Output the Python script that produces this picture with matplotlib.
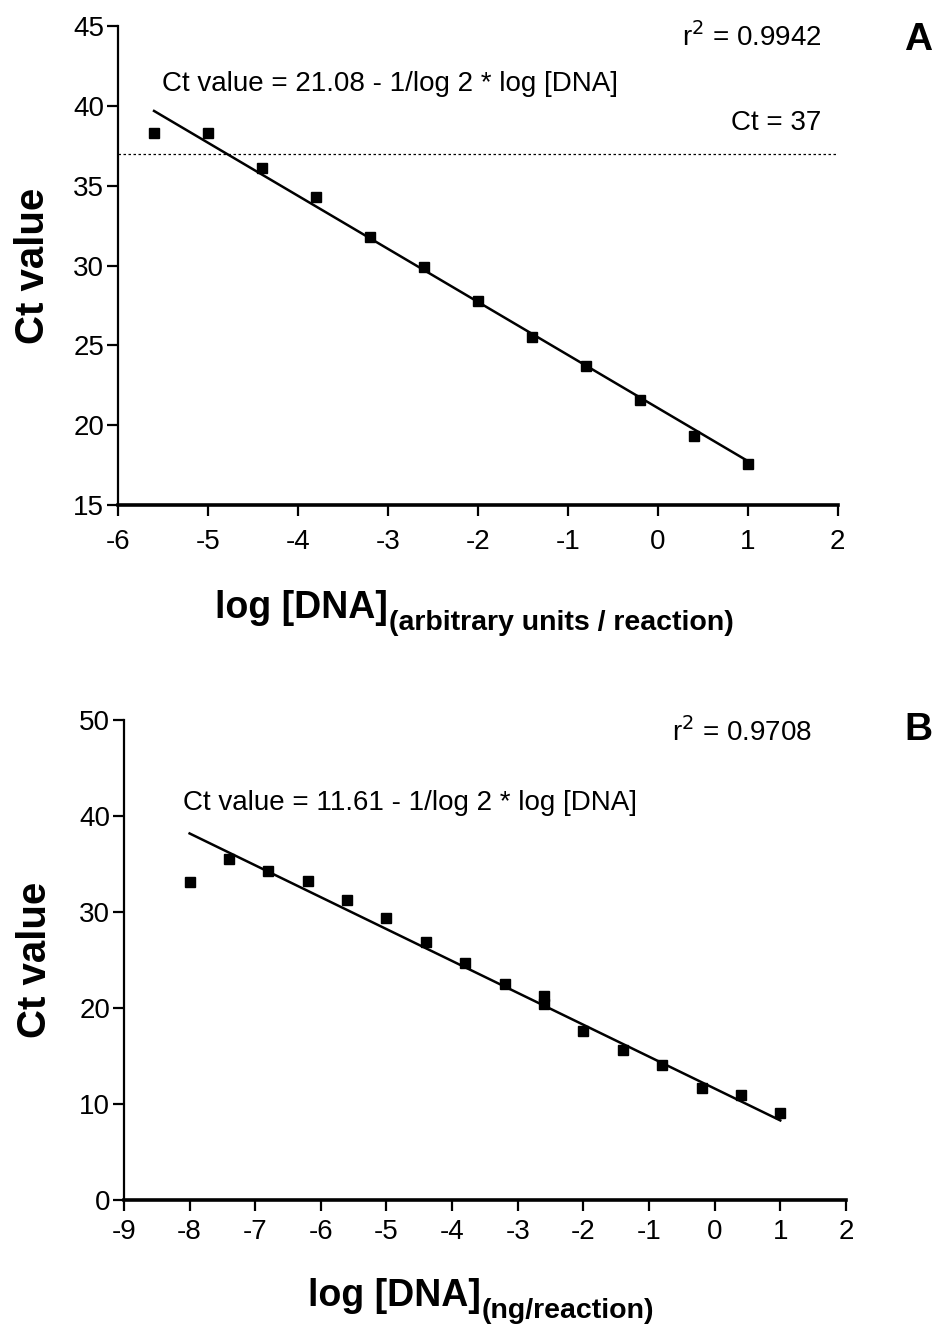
import matplotlib
matplotlib.use("Agg")
import matplotlib.pyplot as plt
import numpy as np

# ==========================================
# DATA
# ==========================================

log_dna_a = [-5.6, -5.0, -4.4, -3.8, -3.2, -2.6, -2.0, -1.4, -0.8, -0.2, 0.4, 1.0]
ct_a = [38.3, 38.3, 36.1, 34.3, 31.8, 29.9, 27.8, 25.5, 23.7, 21.6, 19.3, 17.6]
intercept_a = 21.08
r2_a = "0.9942"

log_dna_b = [-8.0, -7.4, -6.8, -6.2, -5.6, -5.0, -4.4, -3.8, -3.2, -2.6, -2.6,
             -2.0, -1.4, -0.8, -0.2, 0.4, 1.0]
ct_b = [33.1, 35.5, 34.3, 33.2, 31.3, 29.4, 26.9, 24.7, 22.5, 21.2, 20.4,
        17.6, 15.6, 14.1, 11.7, 10.9, 9.1]
intercept_b = 11.61
r2_b = "0.9708"

slope = -1 / np.log10(2)
ct_cutoff = 37

FONT = ["Liberation Sans", "DejaVu Sans"]
plt.rcParams["font.family"] = FONT
plt.rcParams["axes.unicode_minus"] = False

fig = plt.figure(figsize=(9.37, 13.28), dpi=100)

ax_a = fig.add_axes([0.126, 0.6197, 0.768, 0.3607])
ax_b = fig.add_axes([0.1323, 0.0964, 0.7705, 0.3614])


def style_axes(ax, xlim, ylim, xticks, yticks, xpad, ypad):
    ax.set_xlim(*xlim)
    ax.set_ylim(*ylim)
    ax.set_xticks(xticks)
    ax.set_yticks(yticks)
    ax.spines["top"].set_visible(False)
    ax.spines["right"].set_visible(False)
    ax.spines["left"].set_linewidth(1.6)
    ax.spines["bottom"].set_linewidth(2.6)
    ax.tick_params(direction="out", length=8, width=1.6, labelsize=20)
    ax.tick_params(axis="x", pad=xpad)
    ax.tick_params(axis="y", pad=2)
    ax.set_ylabel("Ct value", fontsize=29, fontweight="bold", labelpad=ypad)


def draw_xlabel(ax, y, main, sub, x0):
    t1 = ax.text(x0, y, main, transform=ax.transAxes, fontsize=27,
                 fontweight="bold", ha="left", va="baseline")
    ax.annotate(sub, xy=(1, 0), xycoords=t1, xytext=(0.5, -3),
                textcoords="offset points", fontsize=20.5, fontweight="bold",
                ha="left", va="baseline")


# ==========================================
# PANEL A
# ==========================================

style_axes(ax_a, (-6, 2), (15, 45), range(-6, 3), range(15, 46, 5), 9, 15)
ax_a.plot(log_dna_a, ct_a, "s", color="black", ms=7.5)
xa = np.array([min(log_dna_a), max(log_dna_a)])
ax_a.plot(xa, intercept_a + slope * xa, color="black", lw=1.8)
ax_a.axhline(ct_cutoff, color="black", lw=0.9, ls=(0, (2, 2)))

ax_a.text(-5.51, 41.4, "Ct value = 21.08 - 1/log 2 * log [DNA]", fontsize=20,
          va="center")
ax_a.text(1.82, 44.3, r"r$^2$ = " + r2_a, fontsize=20, ha="right", va="center")
ax_a.text(1.82, 38.9, "Ct = " + str(ct_cutoff), fontsize=20, ha="right",
          va="center")
draw_xlabel(ax_a, -0.235, "log [DNA]", "(arbitrary units / reaction)", 0.135)
fig.text(0.995, 0.97, "A", fontsize=28, fontweight="bold", ha="right",
         va="center")

# ==========================================
# PANEL B
# ==========================================

style_axes(ax_b, (-9, 2), (0, 50), range(-9, 3), range(0, 51, 10), 6, 18)
ax_b.plot(log_dna_b, ct_b, "s", color="black", ms=7.5)
xb = np.array([min(log_dna_b), max(log_dna_b)])
ax_b.plot(xb, intercept_b + slope * xb, color="black", lw=1.8)

ax_b.text(-8.1, 41.4, "Ct value = 11.61 - 1/log 2 * log [DNA]", fontsize=20,
          va="center")
ax_b.text(1.48, 48.75, r"r$^2$ = " + r2_b, fontsize=20, ha="right",
          va="center")
draw_xlabel(ax_b, -0.22, "log [DNA]", "(ng/reaction)", 0.255)
fig.text(0.995, 0.4503, "B", fontsize=28, fontweight="bold", ha="right",
         va="center")

fig.savefig("out.png", dpi=100)
